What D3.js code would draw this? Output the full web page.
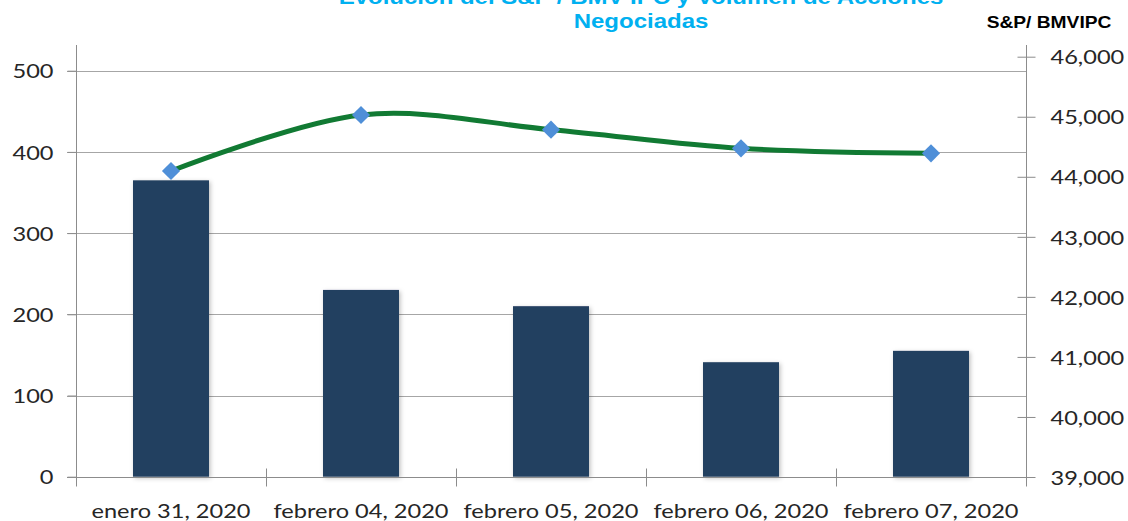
<!DOCTYPE html>
<html><head><meta charset="utf-8">
<script src="https://cdn.jsdelivr.net/npm/d3@7"></script>
<style>body{margin:0;background:#fff;}svg{display:block;}</style>
</head><body>
<svg id="c" width="1128" height="521"></svg>
<script>
const categories = ["enero 31, 2020","febrero 04, 2020","febrero 05, 2020","febrero 06, 2020","febrero 07, 2020"];
const volumen = [365, 230, 210, 141, 155];
const ipc = [44096, 45029, 44785, 44474, 44391];
const leftTicks = [0,100,200,300,400,500];
const rightTicks = [39000,40000,41000,42000,43000,44000,45000,46000];
const titleLines = ["Evolución del S&P / BMV IPC y Volumen de Acciones","Negociadas"];
const rightAxisTitle = "S&P/ BMVIPC";

const SX = 1.18;
const svg = d3.select("#c");
const defs = svg.append("defs");
const f = defs.append("filter").attr("id","sh").attr("x","-20%").attr("y","-20%").attr("width","140%").attr("height","140%");
f.append("feDropShadow").attr("dx",1.5).attr("dy",1.5).attr("stdDeviation",2).attr("flood-color","#000").attr("flood-opacity",0.25);

const x = d3.scaleBand().domain(categories).range([76,1026]).paddingInner(0.6).paddingOuter(0.3);
const yL = d3.scaleLinear().domain([0,500]).range([476.7,70.7]);
const yR = d3.scaleLinear().domain([39000,46000]).range([477,56.7]);

const axisCol = "#8c8c8c", gridCol = "#a6a6a6";
const lblFont = "Lato, 'Open Sans', sans-serif";

// gridlines
svg.append("g").selectAll("line").data(leftTicks.filter(d=>d>0)).join("line")
  .attr("x1",67).attr("x2",1026).attr("y1",d=>Math.round(yL(d))+0.5).attr("y2",d=>Math.round(yL(d))+0.5)
  .attr("stroke",gridCol).attr("stroke-width",1);

// bars
svg.append("g").selectAll("rect").data(volumen).join("rect")
  .attr("x",(d,i)=>x(categories[i])).attr("width",x.bandwidth())
  .attr("y",d=>yL(d)).attr("height",d=>yL(0)-yL(d))
  .attr("fill","#243f60").attr("filter","url(#sh)");

// left axis
const gL = svg.append("g").attr("transform","translate(76.5,0)")
  .call(d3.axisLeft(yL).tickValues(leftTicks).tickSizeInner(9).tickSizeOuter(0).tickPadding(0));
gL.select(".domain").remove();
gL.selectAll(".tick line").attr("stroke",axisCol);
gL.selectAll(".tick text").attr("x",-23/SX).attr("dy","0.36em").attr("transform",`scale(${SX},1)`)
  .attr("font-family",lblFont).attr("font-size",20).attr("fill","#262626");
svg.append("line").attr("x1",76.5).attr("x2",76.5).attr("y1",45).attr("y2",485).attr("stroke",axisCol);

// right axis
const gR = svg.append("g").attr("transform","translate(1026.5,0)")
  .call(d3.axisRight(yR).tickValues(rightTicks).tickFormat(d3.format(",")).tickSizeInner(9).tickSizeOuter(0).tickPadding(0));
gR.select(".domain").remove();
gR.selectAll(".tick line").attr("x1",-9).attr("stroke",axisCol);
gR.selectAll(".tick text").attr("x",24/SX).attr("dy","0.36em").attr("transform",`scale(${SX},1)`)
  .attr("font-family",lblFont).attr("font-size",20).attr("fill","#262626");
svg.append("line").attr("x1",1026.5).attr("x2",1026.5).attr("y1",45).attr("y2",485).attr("stroke",axisCol);

// x axis
const gX = svg.append("g").attr("transform",`translate(0,${Math.round(yL(0))+0.5})`)
  .call(d3.axisBottom(x).tickSize(0).tickPadding(0));
gX.select(".domain").remove();
gX.selectAll(".tick text").attr("y",0).attr("dy",0)
  .attr("transform",`translate(0,40) scale(${SX},1)`)
  .attr("font-family",lblFont).attr("font-size",20).attr("fill","#262626");
gX.append("line").attr("x1",67).attr("x2",1026).attr("stroke",axisCol);
gX.selectAll(".bt").data(d3.range(categories.length+1)).join("line").attr("class","bt")
  .attr("x1",i=>Math.round(x.range()[0]+i*x.step())+0.5).attr("x2",i=>Math.round(x.range()[0]+i*x.step())+0.5)
  .attr("y1",-9).attr("y2",9).attr("stroke",axisCol);

// line series
const pts = ipc.map((v,i)=>[x(categories[i])+x.bandwidth()/2, yR(v)]);
svg.append("path").attr("d",d3.line().curve(d3.curveCatmullRom.alpha(0))(pts))
  .attr("fill","none").attr("stroke","#117a33").attr("stroke-width",5).attr("stroke-linecap","round");
svg.append("g").selectAll("path").data(pts).join("path")
  .attr("d",d3.symbol(d3.symbolSquare,165)())
  .attr("transform",d=>`translate(${d[0]},${d[1]}) rotate(45)`)
  .attr("fill","#4f8fd8");

// title
svg.append("g").selectAll("text").data(titleLines).join("text")
  .attr("transform",(d,i)=>`translate(641,${4+i*24}) scale(1.2,1)`)
  .attr("text-anchor","middle").attr("font-family","'Liberation Sans', Arial, sans-serif")
  .attr("font-weight","bold").attr("font-size",20).attr("fill","#00b0f0").text(d=>d);

svg.append("text").attr("transform","translate(1049,28) scale(1.2,1)").attr("text-anchor","middle")
  .attr("font-family","'Liberation Sans', Arial, sans-serif").attr("font-weight","bold").attr("font-size",16)
  .attr("fill","#000").text(rightAxisTitle);
</script>
</body></html>
